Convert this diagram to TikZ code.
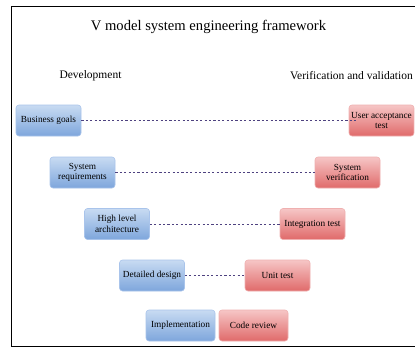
\documentclass[tikz,border=0pt]{standalone}
\usepackage{fontspec}
\setmainfont{Liberation Serif}
\usetikzlibrary{shadings}
\definecolor{bluetop}{HTML}{C8DBF2}
\definecolor{bluebot}{HTML}{7EA6DC}
\definecolor{blueline}{HTML}{A9C4EB}
\definecolor{redtop}{HTML}{F6C6C6}
\definecolor{redbot}{HTML}{E06A6A}
\definecolor{redline}{HTML}{EFB0B0}
\definecolor{dashcol}{HTML}{4E4280}
\tikzset{
  devbox/.style={draw=blueline, line width=0.6pt, rounded corners=3pt, top color=bluetop, bottom color=bluebot,
    minimum width=65pt, minimum height=31pt, inner sep=1pt, align=center,
    font=\fontsize{9.3}{10.5}\selectfont},
  verbox/.style={draw=redline, line width=0.6pt, rounded corners=3pt, top color=redtop, bottom color=redbot,
    minimum width=65pt, minimum height=31pt, inner sep=1pt, align=center,
    font=\fontsize{9.3}{10.5}\selectfont},
  link/.style={draw=dashcol, line width=0.7pt, dash pattern=on 2.2pt off 2.2pt},
  frame/.style={line width=1.6pt, black}
}
\begin{document}
\begin{tikzpicture}[x=1pt,y=-1pt]
\useasboundingbox (0,0) rectangle (415,348);
\fill[white] (0,0) rectangle (415,348);
\draw[frame] (415,6.5) -- (11.5,6.5) -- (11.5,346.5) -- (415,346.5);
\node[font=\fontsize{14.6}{16}\selectfont] (title) at (208.5,27) {V model system engineering framework};
\node[font=\fontsize{11.5}{13}\selectfont] (dev) at (90.5,76) {Development};
\node[font=\fontsize{11.5}{13}\selectfont] (ver) at (351.5,76) {Verification and validation};

\node[devbox] (bg) at (48.5,120.5) {Business goals};
\node[devbox] (sr) at (82.5,172.5) {System\\requirements};
\node[devbox] (hla) at (117,224) {High level\\architecture};
\node[devbox] (dd) at (152,275.5) {Detailed design};
\node[devbox, minimum width=69pt] (im) at (180.5,325.5) {Implementation};

\node[verbox] (uat) at (381.5,120.5) {User acceptance\\test};
\node[verbox] (sv) at (347.5,172.5) {System\\verification};
\node[verbox] (it) at (312.5,224) {Integration test};
\node[verbox] (ut) at (277.5,275.5) {Unit test};
\node[verbox, minimum width=69pt] (cr) at (253.5,325.5) {Code review};

\draw[link] (bg.east) -- ([xshift=8pt]uat.west);
\draw[link] (sr.east) -- (sv.west);
\draw[link] (hla.east) -- (it.west);
\draw[link] (dd.east) -- (ut.west);
\end{tikzpicture}
\end{document}
